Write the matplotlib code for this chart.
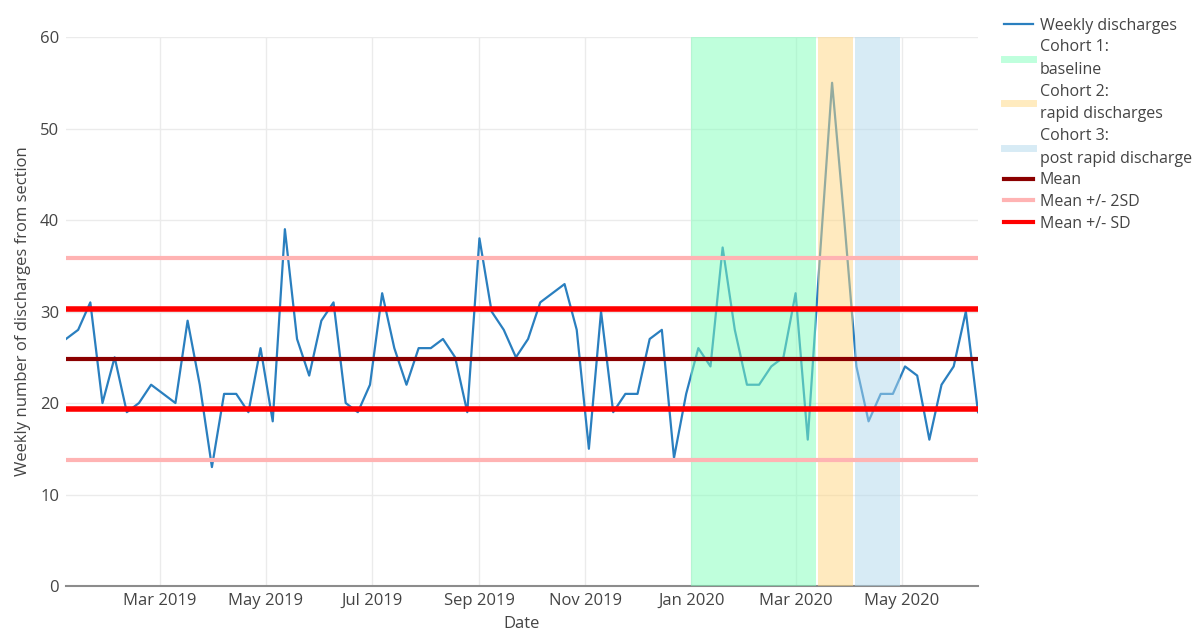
"""Weekly discharges control chart with cohort periods"""
import matplotlib
matplotlib.use('Agg')
import matplotlib.pyplot as plt
import matplotlib.dates as mdates
from matplotlib.lines import Line2D
import pandas as pd

plt.rcParams['font.family'] = ['Open Sans', 'DejaVu Sans']

# data: weekly counts starting first week of Jan 2019
start = '2019-01-06'
discharges = [27, 28, 31, 20, 25, 19, 20, 22, 21, 20,
              29, 22, 13, 21, 21, 19, 26, 18, 39, 27,
              23, 29, 31, 20, 19, 22, 32, 26, 22, 26,
              26, 27, 25, 19, 38, 30, 28, 25, 27, 31,
              32, 33, 28, 15, 30, 19, 21, 21, 27, 28,
              14, 21, 26, 24, 37, 28, 22, 22, 24, 25,
              32, 16, 36, 55, 40, 24, 18, 21, 21, 24,
              23, 16, 22, 24, 30, 19]
dates = pd.date_range(start, periods=len(discharges), freq='7D')

mean = 24.8
sd = 5.5

cohorts = ['Cohort 1:\nbaseline', 'Cohort 2:\nrapid discharges', 'Cohort 3:\npost rapid discharge']
cohort_start = ['2020-01-01', '2020-03-14', '2020-04-04']
cohort_end = ['2020-03-13', '2020-04-03', '2020-04-30']
cohort_col = ['#80FFBB', '#FFD780', '#B0D8EC']
cohort_leg = ['#BFFFDD', '#FFEBBF', '#D7EBF5']

fig = plt.figure(figsize=(12, 6.33), dpi=100)
ax = fig.add_axes([0.055, 0.0742, 0.76, 0.8673])

ax.plot(dates, discharges, color='#2a7fbf', lw=1.6, zorder=2)

for s, e, c in zip(cohort_start, cohort_end, cohort_col):
    ax.axvspan(pd.Timestamp(s), pd.Timestamp(e), ymin=0, ymax=1,
               color=c, alpha=0.5, lw=0, zorder=3)

ax.axhline(mean, color='#8B0000', lw=3, zorder=4)
for k in (-2, 2):
    ax.axhline(mean + k * sd, color='#FFB3B3', lw=3, zorder=4)
for k in (-1, 1):
    ax.axhline(mean + k * sd, color='#FF0000', lw=4, zorder=4)

ax.set_ylim(0, 60)
ax.set_xlim(dates[0], dates[-1])
ax.set_yticks(range(0, 61, 10))
ax.xaxis.set_major_locator(mdates.MonthLocator(bymonth=[1, 3, 5, 7, 9, 11]))
ax.xaxis.set_major_formatter(mdates.DateFormatter('%b %Y'))
ax.grid(True, color='#ebebeb', lw=1, zorder=0)
ax.set_axisbelow(True)
for sp in ['top', 'right', 'left']:
    ax.spines[sp].set_visible(False)
ax.spines['bottom'].set_color('#8c8c8c')
ax.spines['bottom'].set_linewidth(1.5)
ax.tick_params(length=0, labelsize=12, colors='#444444', pad=5)
ax.set_xlabel('Date', fontsize=12, color='#444444', labelpad=5)
ax.set_ylabel('Weekly number of discharges from section', fontsize=12,
              color='#444444', labelpad=6)

handles = [Line2D([], [], color='#2a7fbf', lw=1.6)]
handles += [Line2D([], [], color=c, lw=5) for c in cohort_leg]
handles += [Line2D([], [], color='#8B0000', lw=3),
            Line2D([], [], color='#FFB3B3', lw=3),
            Line2D([], [], color='#FF0000', lw=3)]
labels = ['Weekly discharges'] + cohorts + ['Mean', 'Mean +/- 2SD', 'Mean +/- SD']
leg = fig.legend(handles, labels, loc='upper left', bbox_to_anchor=(0.825, 0.995),
                 frameon=False, fontsize=11.5, handlelength=1.8, handletextpad=0.4,
                 labelspacing=0.36, labelcolor='#444444')
for t in leg.get_texts():
    t.set_linespacing(1.55)

plt.savefig('out.png', dpi=100)
